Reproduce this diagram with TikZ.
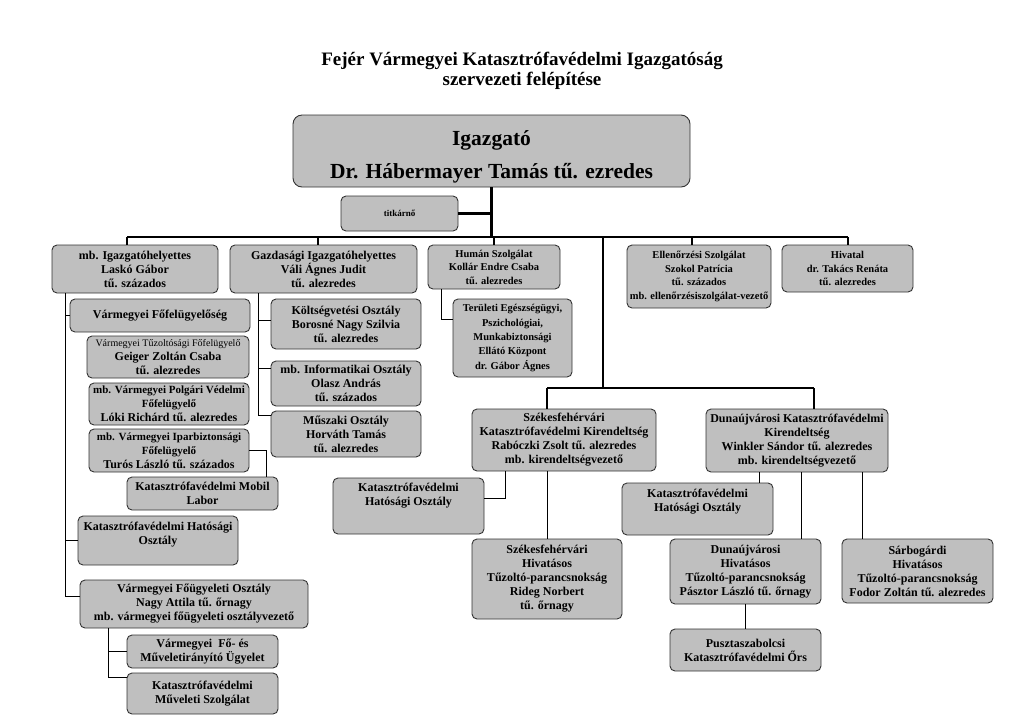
\documentclass[tikz,border=0pt]{standalone}
\usepackage{fontspec}
\setmainfont{Liberation Serif}
\tikzset{
  box/.style={draw=black!80, fill=black!25, rounded corners=5pt, line width=0.9pt,
    inner sep=1pt, align=center, font=\bfseries\fontsize{12}{14}\selectfont},
  sm/.style={font=\bfseries\fontsize{10.5}{13.5}\selectfont},
  bus/.style={line width=2.6pt},
  drop/.style={line width=2pt},
  thin/.style={line width=0.9pt},
}
\newcommand\mkbox[7][]{\node[box,minimum width={(#5-#3)*1pt},minimum height={(#6-#4)*1pt},#1] (#2) at ({(#3+#5)/2},{(#4+#6)/2}) {#7};}
\begin{document}
\begin{tikzpicture}[x=1pt,y=-1pt]
\useasboundingbox (0,0) rectangle (1024,724);
\node[font=\bfseries\fontsize{19}{20.5}\selectfont, align=center] (title) at (522,71)
  {Fejér Vármegyei Katasztrófavédelmi Igazgatóság\\szervezeti felépítése};

\mkbox[rounded corners=9pt,font=\bfseries\fontsize{21.5}{33}\selectfont]{ig}{293}{115}{690}{187}{\rule{0pt}{26pt}Igazgató\\Dr. Hábermayer Tamás tű. ezredes}
\mkbox[font=\bfseries\fontsize{9}{11}\selectfont]{tit}{341}{196}{458}{231}{titkárnő}
\mkbox{mbig}{52}{245}{218}{293}{mb. Igazgatóhelyettes\\Laskó Gábor\\tű. százados}
\mkbox{gazd}{230}{245}{417}{293}{Gazdasági Igazgatóhelyettes\\Váli Ágnes Judit\\tű. alezredes}
\mkbox[sm]{hum}{428}{245}{560}{289}{Humán Szolgálat\\Kollár Endre Csaba\\tű. alezredes}
\mkbox[sm]{ell}{627}{245}{771}{308}{Ellenőrzési Szolgálat\\Szokol Patrícia\\tű. százados\\mb. ellenőrzésiszolgálat-vezető}
\mkbox[sm]{hiv}{782}{245}{913}{292}{Hivatal\\dr. Takács Renáta\\tű. alezredes}
\mkbox[font=\bfseries\fontsize{10.5}{14.25}\selectfont]{terul}{453}{299}{572}{377}{Területi Egészségügyi,\\Pszichológiai,\\Munkabiztonsági\\Ellátó Központ\\dr. Gábor Ágnes}
\mkbox{fofel}{70}{299}{250}{332}{Vármegyei Főfelügyelőség}
\mkbox{geig}{87}{336}{249}{378}{{\mdseries\fontsize{10}{11}\selectfont Vármegyei Tűzoltósági Főfelügyelő}\\Geiger Zoltán Csaba\\tű. alezredes}
\mkbox{loki}{89}{383}{249}{425}{{\fontsize{11}{12}\selectfont mb. Vármegyei Polgári Védelmi}\\{\fontsize{11}{12}\selectfont Főfelügyelő}\\Lóki Richárd tű. alezredes}
\mkbox{turos}{89}{429}{249}{472}{{\fontsize{11}{12}\selectfont mb. Vármegyei Iparbiztonsági}\\{\fontsize{11}{12}\selectfont Főfelügyelő}\\Turós László tű. százados}
\mkbox{mobil}{127}{477}{278}{510}{Katasztrófavédelmi Mobil\\Labor}
\mkbox{hatL}{78}{516}{238}{565}{Katasztrófavédelmi Hatósági\\Osztály\\\mbox{}}
\mkbox{fougy}{80}{580}{308}{628}{Vármegyei Főügyeleti Osztály\\Nagy Attila tű. őrnagy\\mb. vármegyei főügyeleti osztályvezető}
\mkbox{ugy}{127}{635}{278}{668}{Vármegyei\ \ Fő- és\\Műveletirányító Ügyelet}
\mkbox{szolg}{127}{673}{278}{714}{Katasztrófavédelmi\\Műveleti Szolgálat}
\mkbox{kolt}{271}{299}{421}{349}{Költségvetési Osztály\\Borosné Nagy Szilvia\\tű. alezredes}
\mkbox{info}{271}{361}{421}{406}{mb. Informatikai Osztály\\Olasz András\\tű. százados}
\mkbox{musz}{271}{411}{421}{457}{Műszaki Osztály\\Horváth Tamás\\tű. alezredes}
\mkbox{szk}{472}{409}{656}{471}{Székesfehérvári\\Katasztrófavédelmi Kirendeltség\\Rabóczki Zsolt tű. alezredes\\mb. kirendeltségvezető}
\mkbox{szhat}{333}{478}{484}{534}{Katasztrófavédelmi\\Hatósági Osztály\\[10pt]\mbox{}}
\mkbox{szhtp}{472}{539}{622}{619}{Székesfehérvári\\Hivatásos\\Tűzoltó-parancsnokság\\Rideg Norbert\\tű. őrnagy}
\mkbox{du}{706}{409}{888}{472}{Dunaújvárosi Katasztrófavédelmi\\Kirendeltség\\Winkler Sándor tű. alezredes\\mb. kirendeltségvezető}
\mkbox{duhat}{622}{483}{773}{535}{Katasztrófavédelmi\\Hatósági Osztály\\[4pt]\mbox{}}
\mkbox{duhtp}{670}{539}{821}{604}{Dunaújvárosi\\Hivatásos\\Tűzoltó-parancsnokság\\Pásztor László tű. őrnagy}
\mkbox{sarb}{842}{539}{993}{603}{Sárbogárdi\\Hivatásos\\Tűzoltó-parancsnokság\\Fodor Zoltán tű. alezredes}
\mkbox{pusz}{670}{629}{821}{671}{Pusztaszabolcsi\\Katasztrófavédelmi Őrs}

% main buses
\coordinate (busL) at (127,237);
\coordinate (busR) at (848,237);
\coordinate (b2L) at (547,388);
\coordinate (b2R) at (814,388);
\draw[bus] (ig.south) -- (ig.south |- busL);
\draw[bus] (tit.east) -- (tit.east -| ig.south);
\draw[bus] (busL) -- (busR);
\draw[drop] (busL) -- (busL |- mbig.north);
\draw[drop] (busL -| 318,0) -- (gazd.north -| 318,0);
\draw[drop] (busL -| hum.north) -- (hum.north);
\draw[drop] (busL -| 692,0) -- (ell.north -| 692,0);
\draw[drop] (busR) -- (busR |- hiv.north);
\draw[drop] (busL -| 603,0) -- (b2L -| 603,0);
\draw[bus] (b2L) -- (b2R);
\draw[drop] (b2L) -- (b2L |- szk.north);
\draw[drop] (b2R) -- (b2R |- du.north);

% left column
\draw[thin] (mbig.south -| 65,0) -- (65,596) -- (fougy.west |- 0,596);
\draw[thin] (fofel.west -| 65,0) -- (fofel.west);
\draw[thin] (hatL.west -| 65,0) -- (hatL.west);
\draw[thin] (turos.east) -- (turos.east -| 266,0) -- (mobil.north -| 266,0);
\draw[thin] (fougy.south -| 108,0) -- (108,677) -- (szolg.west |- 0,677);
\draw[thin] (ugy.west -| 108,0) -- (ugy.west);
% Gazdasagi
\draw[thin] (gazd.south -| 258,0) -- (258,415) -- (musz.west |- 0,415);
\draw[thin] (258,320) -- (kolt.west |- 0,320);
\draw[thin] (258,368) -- (info.west |- 0,368);
% Human
\draw[thin] (hum.south -| 441,0) -- (441,319) -- (terul.west |- 0,319);
% Szekesfehervar
\draw[thin] (szk.south -| 505,0) -- (505,498) -- (szhat.east |- 0,498);
\draw[thin] (szk.south -| szhtp.north) -- (szhtp.north);
% Dunaujvaros
\draw[thin] (du.south -| 759,0) -- (duhat.north -| 759,0);
\draw[thin] (du.south -| 801,0) -- (duhtp.north -| 801,0);
\draw[thin] (du.south -| 862,0) -- (sarb.north -| 862,0);
\draw[thin] (duhtp.south) -- (pusz.north);
\end{tikzpicture}
\end{document}
